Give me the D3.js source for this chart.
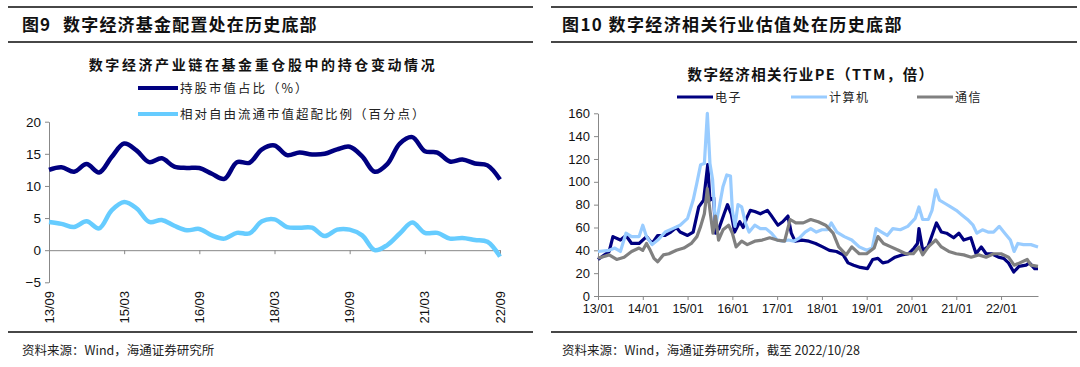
<!DOCTYPE html>
<html><head><meta charset="utf-8">
<script src="https://cdn.jsdelivr.net/npm/d3@7/dist/d3.min.js"></script>
<style>
html,body{margin:0;padding:0;background:#fff;}
svg{display:block;}
</style></head>
<body>
<svg id="c" width="1080" height="367"></svg>
<script>
// ---------- Left chart data (quarterly) ----------
const quarters = ["13/09","13/12","14/03","14/06","14/09","14/12","15/03","15/06","15/09","15/12","16/03","16/06","16/09","16/12","17/03","17/06","17/09","17/12","18/03","18/06","18/09","18/12","19/03","19/06","19/09","19/12","20/03","20/06","20/09","20/12","21/03","21/06","21/09","21/12","22/03","22/06","22/09"];
const holdingShare = [12.5,12.9,12.2,13.4,12.1,14.5,16.6,15.5,13.7,14.3,13.0,12.8,12.8,11.9,11.1,13.7,13.6,15.7,16.3,14.8,15.2,14.9,15.0,15.7,16.1,14.6,12.2,13.4,16.6,17.6,15.4,15.2,13.8,14.1,13.5,13.2,11.0];
const overweight = [4.4,4.1,3.6,4.5,3.4,6.2,7.5,6.5,4.4,4.7,3.8,3.1,3.3,2.3,1.8,2.7,2.6,4.5,4.8,3.6,3.5,3.5,2.2,3.2,3.2,2.3,0.0,0.8,2.6,4.3,2.7,2.7,1.8,1.9,1.6,1.3,-1.0];
const leftTickLabels = ["13/09","15/03","16/09","18/03","19/09","21/03","22/09"];
const leftYTicks = [20,15,10,5,0,-5];
const leftSeriesNames = ["持股市值占比（%）","相对自由流通市值超配比例（百分点）"];

// ---------- Right chart data (months since 2013/01) ----------
const elecM = [0,3,4,6,7.5,9,11,13,14.5,16,18,19.5,21,22,24,25.5,27,28.3,29.4,30,31,31.5,32.4,33.8,34.7,35.7,36.6,38,38.9,39.8,40.8,42,43.5,45.4,46.3,48.2,49.5,50.9,51.8,52.8,54.6,56.5,58.3,60.2,62,63.9,65.7,67,68.5,70.3,72.2,73.6,75,76.3,77.7,79.6,81.4,83.2,84.7,85.6,86,87,88.4,89.7,90.7,92,93.4,95.3,96.7,98,99.9,101.3,102.7,104,105.5,107.3,108.7,110,111.4,112.8,114.7,115.6,117,117.9];
const elecV = [32,39,52,49,53,46,46,52,46,53,53,56,60,56,53,56,78,84,115,84,86,55,59,72,80,72,56,65,60,68,75,74,72,75,71,62,65,70,55,48,49,48,46,43,40,39,36,29,27,25,24,32,33,29,30,34,36,37,42,46,59,40,43,55,64,56,55,51,55,49,51,37,43,37,37,34,33,29,21,26,27,29,24,24];
const compM = [0,3,4.5,6,7.5,9,11,12,13,14.5,16,18,20,22,24,25.5,26.5,27.5,28.5,29.3,30,30.7,31.5,32.5,33.5,34.5,35.5,36,36.7,37.5,38.5,39.5,40.5,42,43.5,45,46.5,48,49.5,51,52.5,54,55.5,57,58.5,60,61.5,62.5,64,66,68,70,72,73.5,74.5,76,77.5,79,81,83,85,86,87,88.5,89.5,90.5,91.5,93,94.5,96,97.5,99,100.5,101.5,103,104.5,106,107.5,109,110.5,111.5,112.5,114,116,117.9];
const compV = [39,40,42,39,55,52,52,62,52,45,49,56,59,62,68,84,99,115,116,160,116,102,61,78,96,106,105,75,61,80,78,64,56,62,59,59,55,49,48,49,48,51,56,59,56,58,58,64,56,52,49,43,40,42,59,56,53,59,58,61,68,78,67,67,75,93,84,81,78,75,71,67,62,55,58,56,56,61,55,49,39,46,45,45,43];
const telM = [0,3,5,7,9,11,12,13,14,15,16,17.5,19,21,23,25,26.5,27.5,28.5,29.3,30,30.8,31.5,32.3,33.5,35,36,37,38.5,40,42,44,46,48,50,51.5,53,55,57,59,61,63,64.5,66.5,68,70,72,74,75,76.5,78.5,80.5,82.5,84.5,86,87,88.5,90.5,92,94,96,98,100,102,104,106,108,110,111.5,113,115,116,117.9];
const telV = [33,36,32,34,39,42,40,46,40,33,30,36,37,40,42,46,52,61,72,94,75,55,70,49,58,62,55,43,48,45,48,49,51,49,48,67,64,64,67,65,62,55,43,36,43,37,37,42,52,46,43,40,37,37,43,36,43,49,43,39,37,36,34,36,34,37,37,34,27,29,32,27,26];
const rightTickLabels = ["13/01","14/01","15/01","16/01","17/01","18/01","19/01","20/01","21/01","22/01"];
const rightYTicks = [0,20,40,60,80,100,120,140,160];
const rightSeriesNames = ["电子","计算机","通信"];

const svg = d3.select("#c");
const CJK = '"Noto Sans CJK SC","Noto Sans",sans-serif';
const NUM = '"Liberation Sans",Arial,sans-serif';
const rule = "#474747";

// ---------- frames ----------
function hline(x1,x2,y,w){svg.append("line").attr("x1",x1).attr("x2",x2).attr("y1",y).attr("y2",y).attr("stroke",rule).attr("stroke-width",w);}
hline(8,533,7,2); hline(8,533,42,2); hline(8,533,332,2);
hline(551,1077,7,2); hline(551,1077,42,2); hline(551,1077,332,2);

svg.append("text").attr("x",22).attr("y",31).attr("font-family",CJK).attr("font-weight","bold").attr("font-size",17).attr("fill","#111").attr("letter-spacing",1).text("图9");
svg.append("text").attr("x",63).attr("y",31).attr("font-family",CJK).attr("font-weight","bold").attr("font-size",17).attr("fill","#111").attr("letter-spacing",1.2).text("数字经济基金配置处在历史底部");
svg.append("text").attr("x",562).attr("y",31).attr("font-family",CJK).attr("font-weight","bold").attr("font-size",17).attr("fill","#111").attr("letter-spacing",1.4).text("图10 数字经济相关行业估值处在历史底部");

svg.append("text").attr("x",22).attr("y",355).attr("font-family",CJK).attr("font-size",12.5).attr("fill","#222").text("资料来源：Wind，海通证券研究所");
svg.append("text").attr("x",562).attr("y",355).attr("font-family",CJK).attr("font-size",12.5).attr("fill","#222").text("资料来源：Wind，海通证券研究所，截至 2022/10/28");

// ---------- Left chart ----------
const lx = d3.scalePoint().domain(quarters).range([49,500]);
const ly = d3.scaleLinear().domain([-5,20]).range([282.3,121.7]);
const L = svg.append("g");
L.append("text").attr("x",263).attr("y",70).attr("text-anchor","middle").attr("font-family",CJK).attr("font-weight","bold").attr("font-size",14).attr("letter-spacing",2.6).attr("fill","#111").text("数字经济产业链在基金重仓股中的持仓变动情况");

const leftColors = ["#000080","#66CCFF"];
[88,114].forEach((yy,i)=>{
  L.append("line").attr("x1",138).attr("x2",178).attr("y1",yy).attr("y2",yy).attr("stroke",leftColors[i]).attr("stroke-width",4);
  L.append("text").attr("x",180).attr("y",yy+4.5).attr("font-family",CJK).attr("font-size",12.5).attr("letter-spacing",2).attr("fill","#222").text(leftSeriesNames[i]);
});

const lyAxis = d3.axisLeft(ly).tickValues(leftYTicks).tickSize(4).tickSizeOuter(0).tickFormat(d3.format("d"));
const gly = L.append("g").attr("transform","translate(49,0)").call(lyAxis);
gly.select(".domain").attr("stroke","#888");
gly.selectAll(".tick line").attr("stroke","#888");
gly.selectAll(".tick text").attr("font-family",NUM).attr("font-size",13.5).attr("fill","#111").attr("x",-8);

const lxAxis = d3.axisBottom(lx).tickValues(leftTickLabels).tickSize(4).tickSizeOuter(0).tickFormat("");
const glx = L.append("g").attr("transform",`translate(0,${ly(0)})`).call(lxAxis);
glx.select(".domain").attr("stroke","#888");
glx.selectAll(".tick line").attr("stroke","#888");
leftTickLabels.forEach(t=>{
  L.append("text").attr("transform",`translate(${lx(t)+4.5},291) rotate(-90)`).attr("text-anchor","end").attr("font-family",NUM).attr("font-size",13).attr("fill","#111").text(t);
});

const lline = d3.line().x((d,i)=>lx(quarters[i])).y(d=>ly(d)).curve(d3.curveCatmullRom.alpha(0.5));
L.append("path").attr("d",lline(overweight)).attr("fill","none").attr("stroke",leftColors[1]).attr("stroke-width",4.5).attr("stroke-linejoin","round");
L.append("path").attr("d",lline(holdingShare)).attr("fill","none").attr("stroke",leftColors[0]).attr("stroke-width",4.5).attr("stroke-linejoin","round");

// ---------- Right chart ----------
const rx = d3.scaleLinear().domain([0,117.9]).range([598,1038]);
const ry = d3.scaleLinear().domain([0,160]).range([296,113.3]);
const R = svg.append("g");
R.append("text").attr("x",811).attr("y",80).attr("text-anchor","middle").attr("font-family",CJK).attr("font-weight","bold").attr("font-size",14.5).attr("letter-spacing",1.4).attr("fill","#111").text("数字经济相关行业PE（TTM，倍）");

const rightColors = ["#000080","#99CCFF","#808080"];
const legX = [677,791,917];
rightSeriesNames.forEach((n,i)=>{
  R.append("line").attr("x1",legX[i]).attr("x2",legX[i]+36).attr("y1",97).attr("y2",97).attr("stroke",rightColors[i]).attr("stroke-width",3);
  R.append("text").attr("x",legX[i]+38).attr("y",101.5).attr("font-family",CJK).attr("font-size",12).attr("letter-spacing",1.5).attr("fill","#222").text(n);
});

const ryAxis = d3.axisLeft(ry).tickValues(rightYTicks).tickSize(4).tickSizeOuter(0);
const gry = R.append("g").attr("transform","translate(598,0)").call(ryAxis);
gry.select(".domain").attr("stroke","#888");
gry.selectAll(".tick line").attr("stroke","#888");
gry.selectAll(".tick text").attr("font-family",NUM).attr("font-size",13).attr("fill","#111").attr("x",-8);

const rxAxis = d3.axisBottom(rx).tickValues(rightTickLabels.map((d,i)=>i*12)).tickSize(4).tickSizeOuter(0).tickFormat((d,i)=>rightTickLabels[i]);
const grx = R.append("g").attr("transform",`translate(0,${ry(0)})`).call(rxAxis);
grx.select(".domain").attr("stroke","#888");
grx.selectAll(".tick line").attr("stroke","#888");
grx.selectAll(".tick text").attr("font-family",'"Liberation Sans Narrow","Arial Narrow",'+NUM).attr("font-size",12.5).attr("fill","#111").attr("y",8);

const series = [[elecM,elecV],[compM,compV],[telM,telV]];
series.forEach(([m,v],k)=>{
  const line = d3.line().x((d,i)=>rx(m[i])).y(d=>ry(d));
  R.append("path").attr("d",line(v)).attr("fill","none").attr("stroke",rightColors[k]).attr("stroke-width",3.2).attr("stroke-linejoin","round");
});
</script>
</body></html>
